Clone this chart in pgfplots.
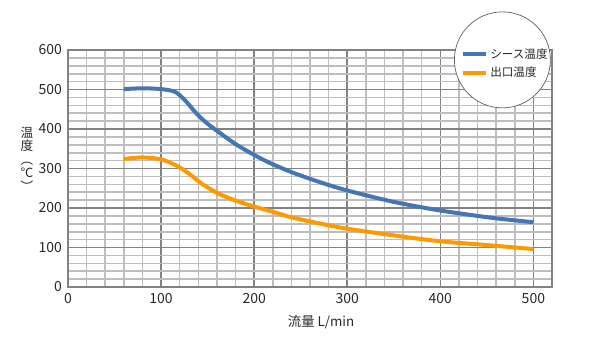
\documentclass[border=0pt]{standalone}
\usepackage{pgfplots}
\pgfplotsset{compat=1.18}
\usepackage{fontspec}
\setmainfont{Noto Sans CJK JP}
\definecolor{cblue}{RGB}{70,117,181}
\definecolor{corange}{RGB}{255,153,0}
\definecolor{gmin}{RGB}{190,190,190}
\definecolor{gmaj}{RGB}{130,130,130}
\definecolor{txt}{RGB}{40,40,40}
\begin{document}
\begin{tikzpicture}
\path[use as bounding box] (0,0) rectangle (450pt,268.5pt);
\begin{axis}[
  at={(51pt,53.25pt)}, anchor=south west,
  scale only axis, width=363pt, height=177.75pt,
  xmin=0, xmax=520, ymin=0, ymax=600,
  xtick={0,100,...,500}, ytick={0,100,...,600},
  minor x tick num=4, minor y tick num=4,
  grid=both,
  minor grid style={gmin, line width=1.2pt},
  major grid style={gmaj, line width=1.2pt},
  axis line style={gmaj, line width=1.2pt},
  major tick length=0pt, minor tick length=0pt,
  tick label style={font=\fontsize{10.5}{12}\selectfont, text=txt},
  /pgf/number format/assume math mode=true,
  yticklabel style={xshift=-1pt},
  xticklabel style={yshift=-1pt},
  xlabel={流量 L/min},
  xlabel style={at={(axis description cs:0.523,-0.148)}, anchor=center, font=\fontsize{10}{12}\selectfont, text=txt},
  clip=false,
  legend style={at={(rel axis cs:0.803,1.03)}, anchor=north west, draw=none, fill=none,
    font=\fontsize{8.7}{10}\selectfont, text=txt, row sep=1pt,
    /tikz/every even column/.append style={column sep=1pt}},
  legend cell align=left,
  legend image code/.code={\draw[#1, line width=3pt] (0pt,0pt) -- (17pt,0pt);},
]
\draw[gray!70!black, line width=0.5pt, fill=white] (axis cs:466.7,575) circle[radius=36pt];
\addplot[cblue, line width=3pt, smooth, tension=0.5] coordinates {
 (60,501) (80,503) (100,501) (115,494) (126,472) (137,442) (148,417) (162,392)
 (180,362) (198,337) (216,315) (241,290) (270,266) (299,245) (349,216)
 (399,194) (456,175) (500,164)};
\addlegendentry{シース温度}
\addplot[corange, line width=3pt, smooth, tension=0.5] coordinates {
 (60,324) (80,328) (100,323) (116,308) (130,287) (144,261) (162,236) (180,219)
 (198,205) (216,193) (241,176) (270,161) (299,148) (349,131) (399,116)
 (456,105) (500,96)};
\addlegendentry{出口温度}
\end{axis}
\node[text=txt, font=\fontsize{9.5}{10.2}\selectfont, align=center] at (20.25pt,149.25pt)
  {温\\度\\︵\\℃\\︶};
\end{tikzpicture}
\end{document}
